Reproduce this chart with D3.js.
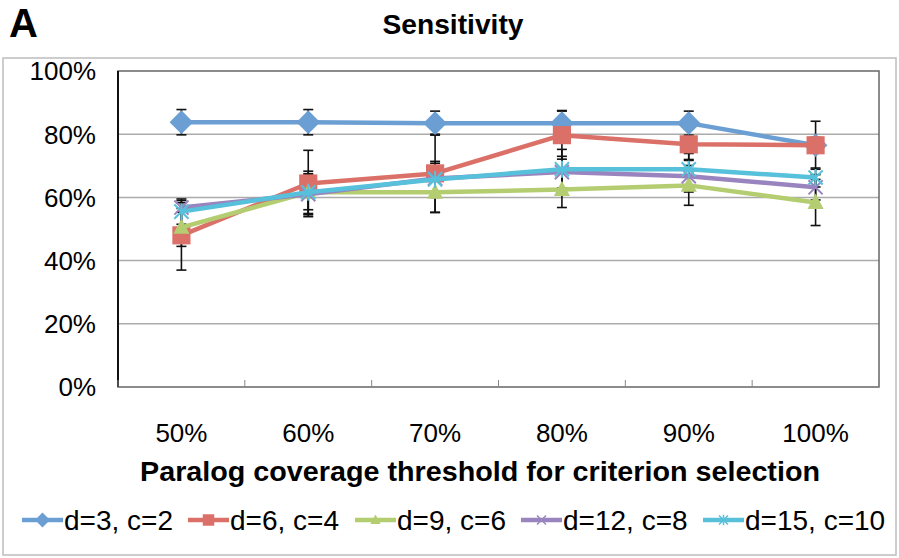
<!DOCTYPE html>
<html lang="en">
<head>
<meta charset="UTF-8">
<title>Sensitivity</title>
<script src="https://cdn.jsdelivr.net/npm/d3@7"></script>
<style>
body { margin: 0; background: #fff; font-family: "Liberation Sans", Arial, sans-serif; }
svg { display: block; }
</style>
</head>
<body>
<svg width="899" height="558"></svg>
<script>
// chart values
var categories = ["50%", "60%", "70%", "80%", "90%", "100%"];
var seriesNames = ["d=3, c=2", "d=6, c=4", "d=9, c=6", "d=12, c=8", "d=15, c=10"];
var yTicks = [0, 20, 40, 60, 80, 100];

var vals1 = [83.8, 83.8, 83.5, 83.5, 83.5, 76.5];
var vals2 = [48.0, 64.4, 67.6, 79.7, 76.8, 76.5];
var vals3 = [50.5, 61.6, 61.6, 62.5, 63.8, 58.4];
var vals4 = [56.8, 61.0, 66.0, 68.0, 66.7, 63.2];
var vals5 = [55.5, 61.6, 65.7, 68.9, 68.9, 66.3];

var err1 = [4.0, 4.0, 3.8, 4.0, 3.8, 2.5];
var err2 = [11.0, 10.5, 12.4, 7.6, 4.8, 7.6];
var err3 = [6.0, 5.5, 6.3, 5.7, 6.3, 7.3];
var err4 = [1.5, 6.5, 4.8, 5.0, 5.0, 4.0];
var err5 = [4.0, 6.7, 5.7, 6.3, 5.0, 3.0];

var colors = ["#6b9fd3", "#db7068", "#b4cd70", "#9a84bf", "#57c0da"];

var svg = d3.select("svg");
var margin = {top: 71, left: 118, right: 20, bottom: 171};
var width = 879 - margin.left, height = 387 - margin.top;

// outer border
svg.append("rect").attr("x", 3).attr("y", 58).attr("width", 893).attr("height", 497)
	.attr("fill", "none").attr("stroke", "#bdbdbd").attr("stroke-width", 1.5);

svg.append("text").attr("x", 9).attr("y", 37).text("A")
	.style("font-size", "40px").style("font-weight", "bold");
svg.append("text").attr("x", 453).attr("y", 34).attr("text-anchor", "middle")
	.attr("textLength", 141).attr("lengthAdjust", "spacingAndGlyphs")
	.style("font-size", "28px").style("font-weight", "bold").text("Sensitivity");

var g = svg.append("g").attr("transform", "translate(" + margin.left + "," + margin.top + ")");

var x = d3.scaleBand().domain(categories).range([0, width]);
var y = d3.scaleLinear().domain([0, 100]).range([height, 0]);

// gridlines
g.selectAll(".grid").data(yTicks.slice(1, 5)).enter().append("line")
	.attr("x1", 0).attr("x2", width)
	.attr("y1", function(d) { return y(d); }).attr("y2", function(d) { return y(d); })
	.attr("stroke", "#ababab").attr("stroke-width", 1.5);

// frame
g.append("rect").attr("width", width).attr("height", height)
	.attr("fill", "none").attr("stroke", "#666").attr("stroke-width", 1.5);
g.append("line").attr("x1", 0).attr("x2", 0).attr("y1", 0).attr("y2", height)
	.attr("stroke", "#111").attr("stroke-width", 2);

// y axis labels
g.selectAll(".ylab").data(yTicks).enter().append("text")
	.attr("x", -22).attr("y", function(d) { return y(d); }).attr("dy", "0.36em")
	.attr("text-anchor", "end").style("font-size", "26px")
	.text(function(d) { return d + "%"; });

// x axis inward ticks
var tickPos = d3.range(categories.length + 1).map(function(i) { return i * x.bandwidth(); });
g.selectAll(".xtick").data(tickPos).enter().append("line")
	.attr("x1", function(d) { return d; }).attr("x2", function(d) { return d; })
	.attr("y1", height).attr("y2", height - 7)
	.attr("stroke", "#888").attr("stroke-width", 1);

g.selectAll(".xlab").data(categories).enter().append("text")
	.attr("x", function(d) { return x(d) + x.bandwidth() / 2; }).attr("y", height + 55)
	.attr("text-anchor", "middle").style("font-size", "26px")
	.text(function(d) { return d; });

svg.append("text").attr("x", 480).attr("y", 481).attr("text-anchor", "middle")
	.attr("textLength", 680).attr("lengthAdjust", "spacingAndGlyphs")
	.style("font-size", "28px").style("font-weight", "bold")
	.text("Paralog coverage threshold for criterion selection");

// custom symbol shapes
var diamond = {draw: function(c, s) { var r = Math.sqrt(s / 2); c.moveTo(0, -r); c.lineTo(r, 0); c.lineTo(0, r); c.lineTo(-r, 0); c.closePath(); }};
var square = {draw: function(c, s) { var r = Math.sqrt(s) / 2; c.rect(-r, -r, 2 * r, 2 * r); }};
var triangle = {draw: function(c, s) { var r = Math.sqrt(s) / 2; c.moveTo(0, -r * 1.1); c.lineTo(r, r * 0.8); c.lineTo(-r, r * 0.8); c.closePath(); }};
var cross = {draw: function(c, s) { var r = Math.sqrt(s) / 2; c.moveTo(-r, -r); c.lineTo(r, r); c.moveTo(r, -r); c.lineTo(-r, r); }};
var star = {draw: function(c, s) { var r = Math.sqrt(s) / 2; c.moveTo(-r, -r); c.lineTo(r, r); c.moveTo(r, -r); c.lineTo(-r, r); c.moveTo(0, -r * 1.2); c.lineTo(0, r * 1.2); }};

var series = [
	{name: seriesNames[0], vals: vals1, err: err1, color: colors[0], sym: diamond, size: 280, fill: true},
	{name: seriesNames[1], vals: vals2, err: err2, color: colors[1], sym: square, size: 330, fill: true},
	{name: seriesNames[2], vals: vals3, err: err3, color: colors[2], sym: triangle, size: 260, fill: true},
	{name: seriesNames[3], vals: vals4, err: err4, color: colors[3], sym: cross, size: 200, fill: false},
	{name: seriesNames[4], vals: vals5, err: err5, color: colors[4], sym: star, size: 200, fill: false}
];

var cx = function(i) { return x(categories[i]) + x.bandwidth() / 2; };

// error bars
series.forEach(function(s) {
	var eb = g.append("g").attr("stroke", "#111").attr("stroke-width", 1.6);
	s.vals.forEach(function(v, i) {
		var lo = y(v - s.err[i]), hi = y(v + s.err[i]), px = cx(i);
		eb.append("line").attr("x1", px).attr("x2", px).attr("y1", lo).attr("y2", hi);
		eb.append("line").attr("x1", px - 5).attr("x2", px + 5).attr("y1", lo).attr("y2", lo);
		eb.append("line").attr("x1", px - 5).attr("x2", px + 5).attr("y1", hi).attr("y2", hi);
	});
});

var line = d3.line().x(function(d, i) { return cx(i); }).y(function(d) { return y(d); });

series.forEach(function(s) {
	g.append("path").datum(s.vals).attr("d", line)
		.attr("fill", "none").attr("stroke", s.color).attr("stroke-width", 4.5)
		.attr("stroke-linejoin", "round");
	g.selectAll(null).data(s.vals).enter().append("path")
		.attr("transform", function(d, i) { return "translate(" + cx(i) + "," + y(d) + ")"; })
		.attr("d", d3.symbol().type(s.sym).size(s.size))
		.attr("fill", s.fill ? s.color : "none")
		.attr("stroke", s.color).attr("stroke-width", s.fill ? 0 : 2);
});

// legend
var legX = [22, 188, 355, 521, 703];
var leg = svg.append("g").attr("transform", "translate(0,520)");
series.forEach(function(s, i) {
	var lg = leg.append("g").attr("transform", "translate(" + legX[i] + ",0)");
	lg.append("line").attr("x1", 0).attr("x2", 41).attr("y1", 0).attr("y2", 0)
		.attr("stroke", s.color).attr("stroke-width", 4.5);
	lg.append("path").attr("transform", "translate(20.5,0)")
		.attr("d", d3.symbol().type(s.sym).size(s.size * 0.4))
		.attr("fill", s.fill ? s.color : "none")
		.attr("stroke", s.color).attr("stroke-width", s.fill ? 0 : 1.5);
	lg.append("text").attr("x", 42).attr("dy", "0.36em").style("font-size", "28px").text(s.name);
});
</script>
</body>
</html>
